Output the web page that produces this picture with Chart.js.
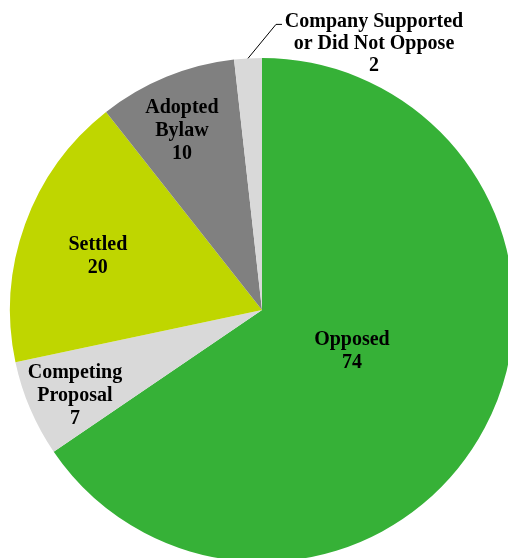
<!DOCTYPE html>
<html>
<head>
<meta charset="utf-8">
<script src="https://cdn.jsdelivr.net/npm/chart.js@4/dist/chart.umd.min.js"></script>
<style>
  html, body { margin: 0; padding: 0; overflow: hidden; background: #ffffff; width: 508px; height: 558px; }
  #wrap { position: absolute; left: 0; top: 0; width: 524px; height: 620px; }
</style>
</head>
<body>
<div id="wrap"><canvas id="c"></canvas></div>
<script>
const categories = ["Opposed", "Competing Proposal", "Settled", "Adopted Bylaw", "Company Supported or Did Not Oppose"];
const values = [74, 7, 20, 10, 2];
const labelLines = [
  ["Opposed", "74"],
  ["Competing", "Proposal", "7"],
  ["Settled", "20"],
  ["Adopted", "Bylaw", "10"],
  ["Company Supported", "or Did Not Oppose", "2"]
];
const colors = ["#36B137", "#D9D9D9", "#BFD600", "#808080", "#D9D9D9"];

// label placement: radius fraction & angle tweak (degrees); external label uses leader
const labelPlace = [
  { f: 0.393, da: -3.1 },
  { f: 0.817, da: -1.6 },
  { f: 0.685, da: -1.9 },
  { f: 0.778, da: -1.8 },
  { external: true, lead: [28, -34, 6], textDx: 98, textDy: -3, lineH: 22 }
];

const labelPlugin = {
  id: 'sliceLabels',
  afterDatasetsDraw(chart) {
    const ctx = chart.ctx;
    const meta = chart.getDatasetMeta(0);
    const fontSize = 20;
    ctx.save();
    ctx.font = 'bold ' + fontSize + 'px "Liberation Serif", "Times New Roman", serif';
    ctx.fillStyle = '#000000';
    ctx.textAlign = 'center';
    ctx.textBaseline = 'middle';
    meta.data.forEach((arc, i) => {
      const p = arc.getProps(['x', 'y', 'startAngle', 'endAngle', 'outerRadius'], true);
      const mid = (p.startAngle + p.endAngle) / 2;
      const place = labelPlace[i];
      const lines = labelLines[i];
      const lineH = place.lineH || 23;
      let cx, cy;
      if (place.external) {
        const ex = p.x + p.outerRadius * Math.cos(mid);
        const ey = p.y + p.outerRadius * Math.sin(mid);
        const x1 = ex + place.lead[0], y1 = ey + place.lead[1];
        ctx.beginPath();
        ctx.strokeStyle = '#000000';
        ctx.lineWidth = 1;
        ctx.moveTo(ex, ey);
        ctx.lineTo(x1, y1);
        ctx.lineTo(x1 + place.lead[2], y1);
        ctx.stroke();
        cx = x1 + place.textDx;
        cy = y1 + place.textDy + (lines.length - 1) * lineH / 2;
      } else {
        const a = mid + place.da * Math.PI / 180;
        const r = p.outerRadius * place.f;
        cx = p.x + r * Math.cos(a);
        cy = p.y + r * Math.sin(a);
      }
      const top = cy - (lines.length - 1) * lineH / 2;
      lines.forEach((t, k) => ctx.fillText(t, cx, top + k * lineH));
    });
    ctx.restore();
  }
};

new Chart(document.getElementById('c'), {
  type: 'pie',
  data: {
    labels: categories,
    datasets: [{
      data: values,
      backgroundColor: colors,
      borderWidth: 0,
      hoverOffset: 0
    }]
  },
  options: {
    responsive: true,
    maintainAspectRatio: false,
    animation: false,
    rotation: 0,
    layout: { padding: { left: 10, right: 10, top: 58, bottom: 58 } },
    plugins: { legend: { display: false }, tooltip: { enabled: false } },
    events: []
  },
  plugins: [labelPlugin]
});
</script>
</body>
</html>
